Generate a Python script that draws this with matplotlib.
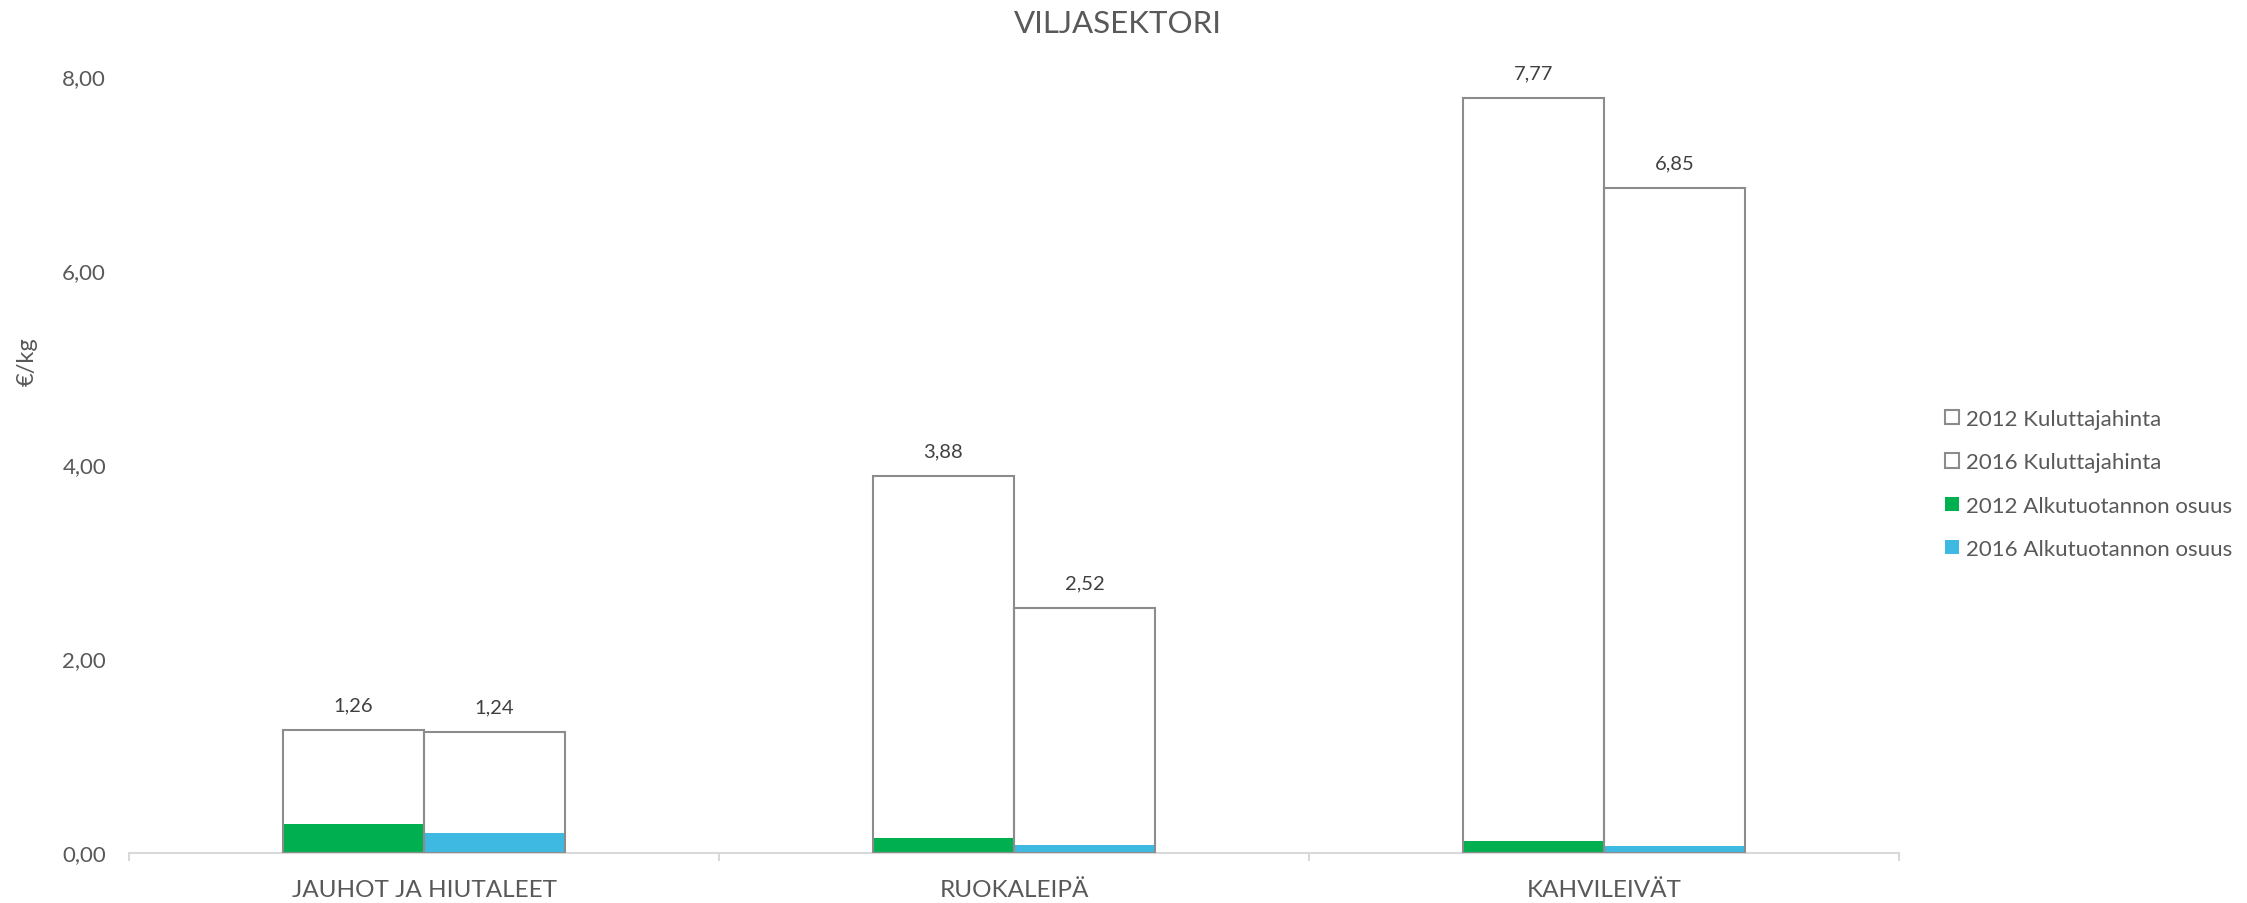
import matplotlib
matplotlib.use("Agg")
import matplotlib.pyplot as plt
from matplotlib.patches import Patch
import numpy as np

categories = ["JAUHOT JA HIUTALEET", "RUOKALEIPÄ", "KAHVILEIVÄT"]
price_2012 = [1.26, 3.88, 7.77]
price_2016 = [1.24, 2.52, 6.85]
primary_2012 = [0.29, 0.15, 0.12]
primary_2016 = [0.20, 0.08, 0.07]
price_labels_2012 = ["1,26", "3,88", "7,77"]
price_labels_2016 = ["1,24", "2,52", "6,85"]
yticks = [0, 2, 4, 6, 8]
ytick_labels = ["0,00", "2,00", "4,00", "6,00", "8,00"]
legend_labels = ["2012 Kuluttajahinta", "2016 Kuluttajahinta",
                 "2012 Alkutuotannon osuus", "2016 Alkutuotannon osuus"]

TEXT = "#595959"
EDGE = "#8C8C8C"
GREEN = "#00B050"
BLUE = "#3DB9E2"
AXIS = "#D9D9D9"

plt.rcParams['font.family'] = ['Lato', 'DejaVu Sans']

fig = plt.figure(figsize=(22.47, 9.04), dpi=100)
ax = fig.add_axes([129/2247, 50.5/904, (1899-129)/2247, (827-50.5)/904])

x = np.arange(len(categories))
w = 0.239
x12 = x - w/2
x16 = x + w/2

ax.bar(x12, price_2012, w, color="white", edgecolor="none", zorder=1)
ax.bar(x16, price_2016, w, color="white", edgecolor="none", zorder=1)
ax.bar(x12, primary_2012, w, color=GREEN, edgecolor="none", zorder=2)
ax.bar(x16, primary_2016, w, color=BLUE, edgecolor="none", zorder=2)
ax.bar(x12, price_2012, w, fill=False, edgecolor=EDGE, linewidth=1.5, zorder=3)
ax.bar(x16, price_2016, w, fill=False, edgecolor=EDGE, linewidth=1.5, zorder=3)

for xi, v, s in zip(x12, price_2012, price_labels_2012):
    ax.annotate(s, (xi, v), xytext=(0, 25), textcoords="offset pixels",
                ha="center", va="center", fontsize=14.5, color="#404040")
for xi, v, s in zip(x16, price_2016, price_labels_2016):
    ax.annotate(s, (xi, v), xytext=(0, 25), textcoords="offset pixels",
                ha="center", va="center", fontsize=14.5, color="#404040")

ax.set_xlim(-0.5, 2.5)
ax.set_ylim(0, 8)
ax.set_yticks(yticks)
ax.set_yticklabels(ytick_labels, fontsize=16, color=TEXT)
ax.tick_params(axis="y", length=0, pad=16.5)

ax.set_xticks([-0.5, 0.5, 1.5, 2.5])
ax.set_xticklabels([])
ax.tick_params(axis="x", which="major", length=6, color=AXIS, width=1.5)
ax.set_xticks(x, minor=True)
ax.set_xticklabels(categories, minor=True, fontsize=17.5, color=TEXT)
ax.tick_params(axis="x", which="minor", length=0, pad=19)

for s in ["top", "right", "left"]:
    ax.spines[s].set_visible(False)
ax.spines["bottom"].set_color(AXIS)
ax.spines["bottom"].set_linewidth(1.5)

fig.text(1118/2247, 1 - 24/904, "VILJASEKTORI", ha="center", va="center",
         fontsize=22.5, color=TEXT)
fig.text(27/2247, 1 - 362/904, "€/kg", rotation=90, ha="center", va="center",
         fontsize=17, color=TEXT)

handles = [Patch(facecolor="white", edgecolor=EDGE, linewidth=1.5),
           Patch(facecolor="white", edgecolor=EDGE, linewidth=1.5),
           Patch(facecolor=GREEN, edgecolor="none"),
           Patch(facecolor=BLUE, edgecolor="none")]
fig.legend(handles, legend_labels, loc="center left",
           bbox_to_anchor=(1925/2247, 1 - 485/904), frameon=False,
           fontsize=16, labelcolor=TEXT, handlelength=0.63, handleheight=0.63,
           handletextpad=0.32, labelspacing=1.05)

fig.savefig("out.png", dpi=100, facecolor="white")
